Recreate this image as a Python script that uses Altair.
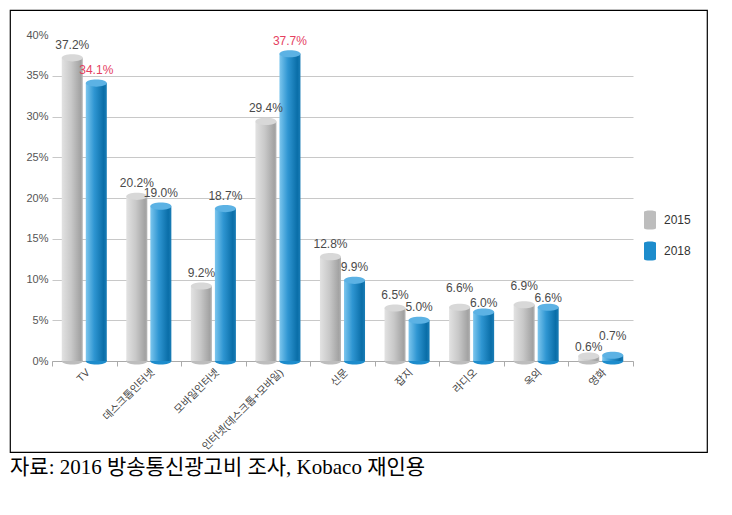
import altair as alt
import pandas as pd

categories = ["TV", "데스크톱인터넷", "모바일인터넷", "인터넷(데스크톱+모바일)",
              "신문", "잡지", "라디오", "옥외", "영화"]
share_2015 = [37.2, 20.2, 9.2, 29.4, 12.8, 6.5, 6.6, 6.9, 0.6]
share_2018 = [34.1, 19.0, 18.7, 37.7, 9.9, 5.0, 6.0, 6.6, 0.7]
years = ["2015", "2018"]
y_ticks = [0, 5, 10, 15, 20, 25, 30, 35, 40]
caption = "자료: 2016 방송통신광고비 조사, Kobaco 재인용"
highlight = ["TV", "인터넷(데스크톱+모바일)"]  # 2018 labels shown in red

rows = []
for c, a, b in zip(categories, share_2015, share_2018):
    rows.append({"cat": c, "year": years[0], "value": a})
    rows.append({"cat": c, "year": years[1], "value": b})
df = pd.DataFrame(rows)

SANS = "Liberation Sans, Noto Sans CJK KR"
ELLIPSE = "M-1,0A1,0.34 0 1,1 1,0A1,0.34 0 1,1 -1,0Z"
CYL = "M-0.6,-0.82A0.6,0.14 0 0,1 0.6,-0.82L0.6,0.82A0.6,0.14 0 0,1 -0.6,0.82Z"

gray_grad = alt.LinearGradient(
    gradient="linear", x1=0, x2=1, y1=0, y2=0,
    stops=[alt.GradientStop(color="#e2e2e2", offset=0),
           alt.GradientStop(color="#c8c8c8", offset=0.45),
           alt.GradientStop(color="#a2a2a2", offset=0.9),
           alt.GradientStop(color="#b6b6b6", offset=1)])
blue_grad = alt.LinearGradient(
    gradient="linear", x1=0, x2=1, y1=0, y2=0,
    stops=[alt.GradientStop(color="#7cc6ee", offset=0),
           alt.GradientStop(color="#2f96d2", offset=0.4),
           alt.GradientStop(color="#0a6ea8", offset=0.85),
           alt.GradientStop(color="#1a7db6", offset=1)])

x_enc = alt.X("cat:N", sort=categories,
              scale=alt.Scale(domain=categories, range=[42, 623],
                              paddingInner=0, paddingOuter=0),
              axis=alt.Axis(title=None, labelAngle=-45, labelAlign="right",
                            labelBaseline="top", labelFont=SANS, labelFontSize=10.5,
                            labelColor="#444", labelPadding=1, tickBand="extent",
                            tickSize=5, tickColor="#aaaaaa", domainColor="#aaaaaa",
                            offset=-91, grid=False))
xo_enc = alt.XOffset("year:N", scale=alt.Scale(domain=years, paddingInner=0.125,
                                               paddingOuter=0.406))
y_scale = alt.Scale(domain=[0, 40], range=[351, 25], nice=False, zero=True)
y_axis = alt.Axis(title=None, values=y_ticks, labelExpr="datum.value + '%'",
                  grid=True, gridColor="#c8c8c8",
                  gridOpacity={"condition": {"test": "datum.value >= 39.9", "value": 0},
                               "value": 1},
                  domain=False, ticks=False, labelPadding=4, offset=-42,
                  labelFont=SANS, labelFontSize=11, labelColor="#555")

base = alt.Chart(df).encode(x=x_enc, xOffset=xo_enc)

bottoms = base.transform_calculate(zero="0").mark_point(
    shape=ELLIPSE, size=441, filled=True, opacity=1, strokeWidth=0
).encode(
    y=alt.Y("zero:Q", scale=y_scale, axis=y_axis),
    color=alt.Color("year:N", scale=alt.Scale(domain=years, range=["#bdbdbd", "#1d8ccc"]),
                    legend=alt.Legend(title=None, orient="none", legendX=630, legendY=200,
                                      symbolType=CYL, symbolSize=400, symbolStrokeWidth=0,
                                      labelFont=SANS, labelFontSize=12, labelColor="#333",
                                      rowPadding=11, labelOffset=4)),
)

bars15 = base.transform_filter(alt.datum.year == years[0]).mark_bar(
    color=gray_grad).encode(y=alt.Y("value:Q", scale=y_scale, axis=y_axis))
bars18 = base.transform_filter(alt.datum.year == years[1]).mark_bar(
    color=blue_grad).encode(y=alt.Y("value:Q", scale=y_scale, axis=y_axis))

tops = base.mark_point(shape=ELLIPSE, size=441, filled=True, opacity=1, strokeWidth=0).encode(
    y=alt.Y("value:Q", scale=y_scale, axis=y_axis),
    color=alt.when(alt.datum.year == years[0]).then(alt.value("#d8d8d8")).otherwise(alt.value("#5cb2e4")),
)

hl_test = "datum.year == '2018' && indexof(" + str(highlight).replace("'", '"') + ", datum.cat) >= 0"
labels = base.transform_joinaggregate(
    vmax="max(value)", vmin="min(value)", groupby=["cat"]
).transform_calculate(
    lab="format(datum.value, '.1f') + '%'",
    # stagger labels of nearly equal pairs so they do not collide
    pos="datum.value + ((datum.vmax - datum.vmin) < 1 ? (datum.value == datum.vmax ? 0.75 : -0.5) : 0)",
).mark_text(baseline="alphabetic", dy=-9, font=SANS, fontSize=12).encode(
    y=alt.Y("pos:Q", scale=y_scale, axis=y_axis),
    text="lab:N",
    color=alt.when(hl_test).then(alt.value("#e5415f")).otherwise(alt.value("#4a4a4a")),
)

chart = alt.layer(bottoms, bars15, bars18, tops, labels).properties(
    width=697, height=442,
    padding={"left": 2, "top": 2, "right": 5, "bottom": 5},
    title=alt.Title(caption, orient="bottom", anchor="start",
                    font="Liberation Serif, Noto Sans CJK KR", fontSize=21,
                    fontWeight="normal", color="#000", offset=5),
).configure_view(stroke="#000", strokeWidth=1.2)

chart.save("out.html", embed_options={"renderer": "svg", "actions": False})
